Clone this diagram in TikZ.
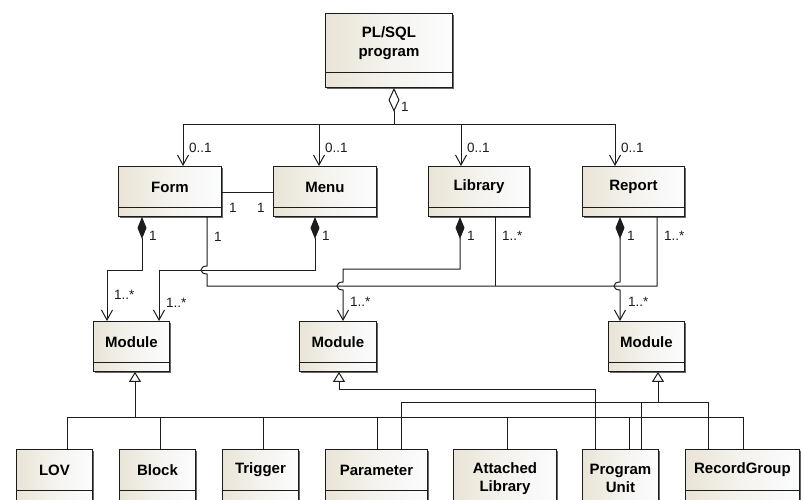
\documentclass[tikz,border=0pt]{standalone}
\usepackage{fontspec}
\setmainfont{Liberation Sans}
\usetikzlibrary{arrows.meta,shadows}

\definecolor{clsL}{RGB}{233,228,214}
\definecolor{clsM}{RGB}{245,243,238}
\definecolor{clsR}{RGB}{251,252,254}
\definecolor{ink}{RGB}{28,28,28}

\tikzset{
  clsbase/.style={rectangle, draw=ink, line width=0.9pt, inner sep=0pt,
    left color=clsL, right color=clsR, middle color=clsM,
    drop shadow={shadow xshift=1.4pt, shadow yshift=-1.4pt, fill=black!60, opacity=1}},
  clsname/.style={clsbase, align=center,
    font=\fontsize{15}{18.5}\selectfont\bfseries},
  clsrest/.style={clsbase},
  link/.style={draw=ink, line width=1pt},
  nav/.style={link, -{Straight Barb[length=10pt,width=11pt,line width=1pt]}},
  compo/.style={link, {Diamond[length=22pt,width=9pt,fill=ink]}-{Straight Barb[length=10pt,width=11pt,line width=1pt]}},
  aggr/.style={link, {Diamond[open,length=24pt,width=11pt,fill=white,line width=1pt]}-},
  gen/.style={link, -{Triangle[open,length=10pt,width=12pt,fill=white,line width=1pt]}},
  mult/.style={inner sep=0pt, anchor=west, text=ink,
    font=\fontsize{13.5}{16}\selectfont},
}

% #1 name, #2 left, #3 top, #4 width, #5 name height, #6 lower height, #7 text
\newcommand\umlclass[7]{%
  \node[clsname, minimum width=#4pt, minimum height=#5pt, anchor=north west] (#1) at (#2,#3) {#7};
  \node[clsrest, minimum width=#4pt, minimum height=#6pt, anchor=north west] (#1x) at (#2,#3+#5) {};
}

\begin{document}
\begin{tikzpicture}[x=1pt, y=-1pt]
\clip (0,0) rectangle (803,499);
\useasboundingbox (0,0) rectangle (803,499);
\fill[white] (0,0) rectangle (803,499);

% classes
\umlclass{plsql}{325}{13}{127}{59}{15}{PL/SQL\\program}
\umlclass{form}{118}{166}{103}{41}{9}{Form}
\umlclass{menu}{273}{166}{103}{41}{9}{Menu}
\umlclass{library}{428}{166}{101}{41}{9}{Library}
\umlclass{report}{582}{166}{102}{41}{9}{Report}
\umlclass{modA}{93}{321}{76}{41}{9}{Module}
\umlclass{modB}{299}{321}{77}{41}{9}{Module}
\umlclass{modC}{608}{321}{76}{41}{9}{Module}
\umlclass{lov}{16}{449}{76}{41}{12}{LOV}
\umlclass{block}{119}{449}{76}{41}{12}{Block}
\umlclass{trigger}{222}{449}{76}{41}{12}{Trigger}
\umlclass{param}{325}{449}{102}{41}{12}{Parameter}
\umlclass{attlib}{453}{449}{103}{58}{12}{Attached\\Library}
\umlclass{punit}{582}{449}{76}{58}{12}{Program\\Unit}
\umlclass{recgrp}{685}{449}{114}{41}{12}{RecordGroup}

% aggregation from the program to its four parts
\draw[aggr] (plsqlx.south -| 394,0) -- (394,124);
\draw[nav] (394,124) -| (form.north -| 183,0);
\draw[nav] (394,124) -| (menu.north -| 319,0);
\draw[nav] (394,124) -| (library.north -| 461,0);
\draw[nav] (394,124) -| (report.north -| 615,0);
\node[mult] (m0) at (401,107) {1};
\node[mult] (m1) at (189,148) {0..1};
\node[mult] (m2) at (325,148) {0..1};
\node[mult] (m3) at (467,148) {0..1};
\node[mult] (m4) at (621,148) {0..1};

% Form -- Menu
\draw[link] (form.east |- 0,192) -- (menu.west |- 0,192);
\node[mult] (m5) at (229,208) {1};
\node[mult] (m6) at (257,208) {1};

% compositions into the modules
\draw[compo] (formx.south -| 142,0) |- (107,270) -- (modA.north -| 107,0);
\draw[compo] (menux.south -| 315,0) |- (159,270) -- (modA.north -| 159,0);
\draw[compo] (libraryx.south -| 460,0) |- (343,269) -- (343,282)
  .. controls (335,282) and (335,290) .. (343,290) -- (modB.north -| 343,0);
\draw[compo] (reportx.south -| 620,0) -- (620,282)
  .. controls (612,282) and (612,290) .. (620,290) -- (modC.north -| 620,0);
\node[mult] (m7) at (149,236) {1};
\node[mult] (m8) at (322,236) {1};
\node[mult] (m9) at (467,236) {1};
\node[mult] (m10) at (627,236) {1};
\node[mult] (m11) at (114,295) {1..*};
\node[mult] (m12) at (166,303) {1..*};
\node[mult] (m13) at (350,302) {1..*};
\node[mult] (m14) at (628,302) {1..*};

% Form / Library / Report association
\draw[link] (formx.south -| 207,0) -- (207,266)
  .. controls (199,266) and (199,274) .. (207,274) -- (207,286)
  -| (reportx.south -| 657,0);
\draw[link] (libraryx.south -| 495,0) -- (495,286);
\node[mult] (m15) at (214,237) {1};
\node[mult] (m16) at (502,236) {1..*};
\node[mult] (m17) at (664,236) {1..*};

% generalisations
\draw[gen] (135,417) -- (modAx.south -| 135,0);
\draw[link] (lov.north -| 67,0) |- (743,417) -- (recgrp.north -| 743,0);
\draw[link] (block.north -| 160,0) -- (160,417);
\draw[link] (trigger.north -| 263,0) -- (263,417);
\draw[link] (param.north -| 377,0) -- (377,417);
\draw[link] (attlib.north -| 507,0) -- (507,417);
\draw[link] (punit.north -| 629,0) -- (629,417);

\draw[gen] (punit.north -| 595,0) |- (339,389) -- (modBx.south -| 339,0);

\draw[gen] (658,402) -- (modCx.south -| 658,0);
\draw[link] (param.north -| 401,0) |- (708,402) -- (recgrp.north -| 708,0);
\draw[link] (punit.north -| 641,0) -- (641,402);
\end{tikzpicture}
\end{document}
